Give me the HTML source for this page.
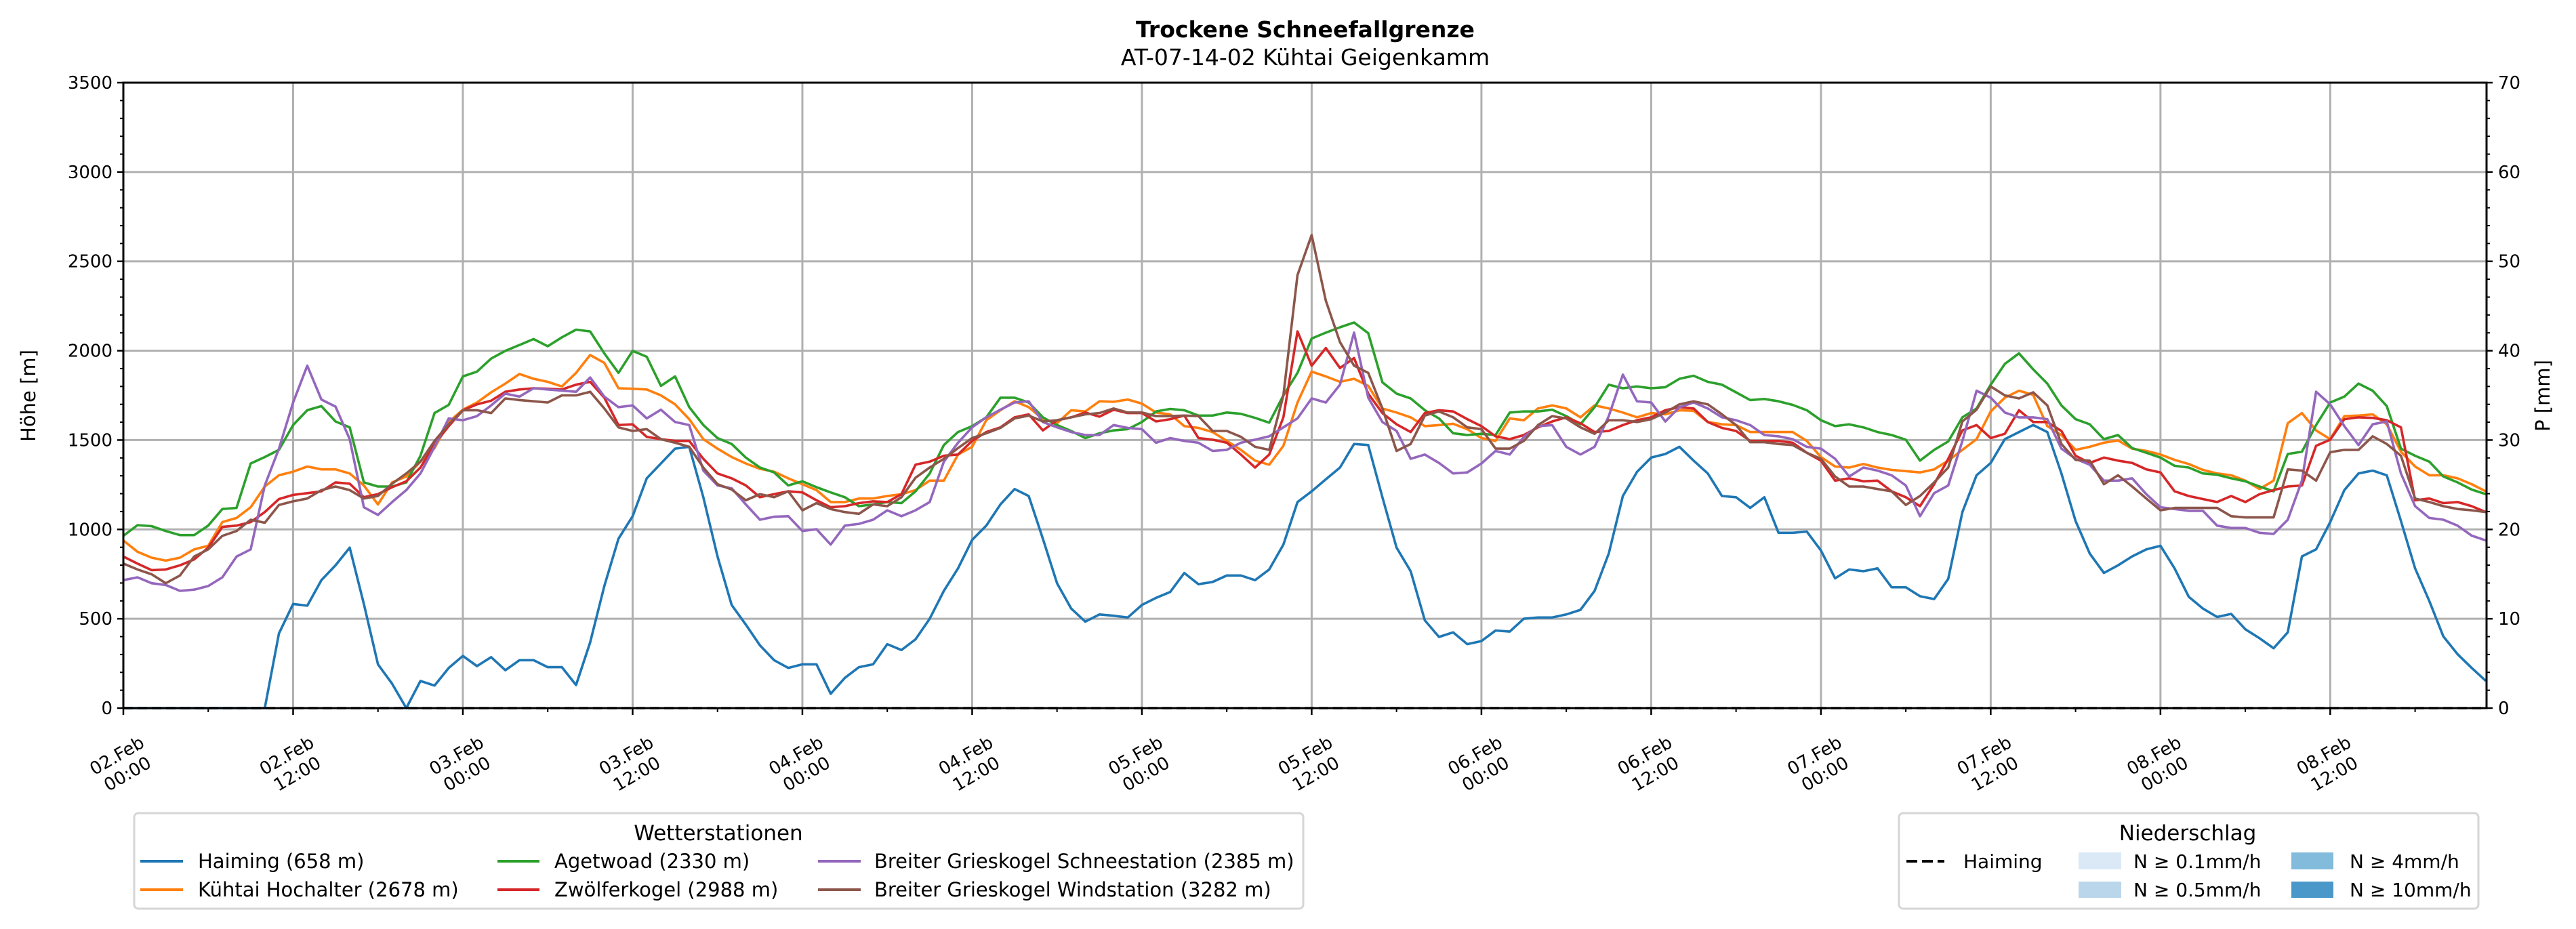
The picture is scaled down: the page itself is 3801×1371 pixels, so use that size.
<!DOCTYPE html>
<html><head><meta charset="utf-8"><style>
html,body{margin:0;padding:0;background:#fff;}
svg{display:block;font-family:"DejaVu Sans","Liberation Sans",sans-serif;}
</style></head><body>
<svg id="chart" width="3801" height="1371" viewBox="0 0 3801 1371" xmlns="http://www.w3.org/2000/svg">
<rect x="0" y="0" width="3801" height="1371" fill="#fff"/>
<text x="1926" y="55" text-anchor="middle" font-size="33" font-weight="bold">Trockene Schneefallgrenze</text>
<text x="1926" y="96" text-anchor="middle" font-size="33">AT-07-14-02 Kühtai Geigenkamm</text>
<g id="grid"></g>
<g id="series"></g>
<g id="axes"></g>
<text transform="translate(52,584) rotate(-90)" text-anchor="middle" font-size="29">Höhe [m]</text>
<text transform="translate(3762,584) rotate(-90)" text-anchor="middle" font-size="29">P [mm]</text>

<g>
<rect x="198" y="1200" width="1725" height="141" rx="6" fill="#fff" stroke="#d6d6d6" stroke-width="3"/>
<text x="1060" y="1240" text-anchor="middle" font-size="31">Wetterstationen</text>
<g><line x1="207" y1="1271" x2="270" y2="1271" stroke="#1f77b4" stroke-width="4"/><text x="292" y="1281" font-size="29">Haiming (658 m)</text></g>
<g><line x1="207" y1="1313" x2="270" y2="1313" stroke="#ff7f0e" stroke-width="4"/><text x="292" y="1323" font-size="29">Kühtai Hochalter (2678 m)</text></g>
<g><line x1="734" y1="1271" x2="796" y2="1271" stroke="#2ca02c" stroke-width="4"/><text x="818" y="1281" font-size="29">Agetwoad (2330 m)</text></g>
<g><line x1="734" y1="1313" x2="796" y2="1313" stroke="#d62728" stroke-width="4"/><text x="818" y="1323" font-size="29">Zwölferkogel (2988 m)</text></g>
<g><line x1="1207" y1="1271" x2="1270" y2="1271" stroke="#9467bd" stroke-width="4"/><text x="1290" y="1281" font-size="29">Breiter Grieskogel Schneestation (2385 m)</text></g>
<g><line x1="1207" y1="1313" x2="1270" y2="1313" stroke="#8c564b" stroke-width="4"/><text x="1290" y="1323" font-size="29">Breiter Grieskogel Windstation (3282 m)</text></g>
</g>

<g>
<rect x="2802" y="1200" width="855" height="141" rx="6" fill="#fff" stroke="#d6d6d6" stroke-width="3"/>
<text x="3228" y="1240" text-anchor="middle" font-size="31">Niederschlag</text>
<g><line x1="2813" y1="1271" x2="2869" y2="1271" stroke="#000" stroke-width="4" stroke-dasharray="16,7"/><text x="2897" y="1281" font-size="28">Haiming</text></g>
<g><rect x="3067" y="1258" width="63" height="25" fill="#dbe9f6"/><text x="3148" y="1281" font-size="28">N ≥ 0.1mm/h</text></g>
<g><rect x="3067" y="1301" width="63" height="24" fill="#bad6eb"/><text x="3148" y="1323" font-size="28">N ≥ 0.5mm/h</text></g>
<g><rect x="3381" y="1258" width="62" height="25" fill="#82bbdb"/><text x="3467" y="1281" font-size="28">N ≥ 4mm/h</text></g>
<g><rect x="3381" y="1301" width="62" height="24" fill="#4a98c9"/><text x="3467" y="1323" font-size="28">N ≥ 10mm/h</text></g>
</g>
</svg>
<script>
const hoursCount = 168;
const yTicks = [0,500,1000,1500,2000,2500,3000,3500];
const y2Ticks = [0,10,20,30,40,50,60,70];
const xTickLabels = ["02.Feb\n00:00","02.Feb\n12:00","03.Feb\n00:00","03.Feb\n12:00","04.Feb\n00:00","04.Feb\n12:00","05.Feb\n00:00","05.Feb\n12:00","06.Feb\n00:00","06.Feb\n12:00","07.Feb\n00:00","07.Feb\n12:00","08.Feb\n00:00","08.Feb\n12:00"];
const haimingPrecip = new Array(168).fill(0);
const haiming = [0,0,0,0,0,0,0,0,0,0,0,418,583,573,716,799,898,583,245,136,0,152,126,225,292,235,285,212,268,268,229,229,129,368,683,948,1074,1286,1369,1452,1462,1180,849,577,467,351,268,225,245,245,80,169,229,245,358,325,385,500,656,782,941,1021,1140,1226,1187,948,699,557,484,524,517,507,577,617,650,756,693,706,742,742,716,776,915,1153,1213,1280,1346,1478,1472,1180,898,766,491,398,424,358,375,434,428,500,507,507,524,550,656,865,1187,1322,1402,1422,1462,1385,1313,1187,1180,1120,1180,981,981,988,882,726,776,766,782,676,676,626,610,723,1097,1303,1372,1505,1545,1584,1545,1313,1047,865,756,799,849,888,908,782,623,557,510,527,441,391,335,424,849,888,1041,1220,1313,1329,1303,1047,782,600,401,302,225,152];
const kuehtai = [938,875,842,825,842,888,908,1041,1064,1124,1240,1303,1323,1352,1336,1336,1313,1246,1140,1263,1296,1379,1455,1601,1670,1710,1767,1816,1870,1843,1826,1800,1876,1976,1932,1790,1787,1783,1750,1700,1617,1505,1452,1405,1369,1339,1323,1286,1253,1220,1153,1153,1173,1173,1187,1197,1220,1273,1273,1419,1462,1611,1667,1717,1684,1617,1594,1667,1660,1717,1714,1727,1704,1654,1644,1578,1568,1545,1495,1445,1385,1362,1468,1710,1883,1856,1826,1843,1803,1677,1654,1627,1578,1584,1591,1561,1511,1495,1621,1611,1677,1694,1677,1627,1694,1677,1654,1627,1651,1644,1667,1664,1601,1588,1584,1545,1545,1545,1545,1495,1405,1352,1346,1366,1346,1333,1326,1319,1336,1385,1445,1505,1660,1737,1776,1753,1578,1528,1445,1462,1485,1498,1452,1439,1419,1389,1366,1333,1313,1303,1273,1226,1273,1594,1651,1554,1505,1634,1637,1644,1588,1435,1352,1303,1303,1286,1253,1213];
const agetwoad = [964,1024,1018,991,968,968,1021,1114,1120,1369,1405,1445,1584,1667,1690,1604,1571,1263,1240,1240,1263,1412,1651,1697,1856,1883,1956,1999,2032,2065,2025,2075,2118,2108,1985,1876,1999,1966,1803,1856,1684,1584,1511,1478,1402,1346,1319,1246,1269,1236,1207,1180,1130,1140,1153,1147,1213,1313,1472,1545,1578,1627,1737,1737,1710,1627,1584,1551,1511,1538,1554,1561,1601,1660,1674,1667,1637,1637,1654,1647,1624,1597,1750,1876,2068,2101,2131,2158,2098,1823,1760,1733,1667,1621,1538,1528,1535,1528,1654,1660,1660,1670,1634,1588,1684,1810,1790,1800,1790,1796,1843,1860,1826,1810,1767,1724,1730,1717,1697,1667,1611,1578,1588,1571,1545,1528,1502,1385,1445,1492,1627,1677,1810,1926,1985,1896,1816,1694,1617,1588,1505,1528,1455,1429,1402,1356,1346,1313,1306,1286,1269,1240,1213,1422,1435,1584,1710,1743,1816,1776,1690,1452,1412,1379,1296,1263,1223,1197];
const zwoelfer = [848,809,772,776,799,832,898,1014,1021,1041,1097,1170,1193,1203,1213,1263,1256,1180,1197,1236,1269,1346,1478,1578,1667,1700,1720,1770,1783,1790,1787,1783,1810,1826,1737,1584,1588,1518,1505,1495,1495,1395,1313,1286,1246,1180,1197,1213,1207,1163,1124,1130,1147,1157,1153,1197,1362,1379,1412,1419,1495,1545,1571,1627,1644,1554,1611,1627,1654,1631,1670,1651,1651,1604,1617,1637,1511,1502,1485,1419,1346,1419,1627,2108,1916,2015,1903,1959,1760,1651,1588,1545,1651,1667,1660,1617,1578,1521,1505,1528,1571,1604,1627,1594,1545,1551,1584,1611,1627,1667,1684,1677,1601,1568,1551,1495,1495,1495,1485,1429,1385,1273,1286,1269,1273,1213,1180,1130,1253,1395,1554,1584,1511,1535,1667,1601,1601,1551,1412,1372,1402,1385,1372,1336,1319,1213,1187,1170,1153,1187,1153,1197,1220,1240,1246,1468,1502,1617,1627,1624,1611,1571,1163,1173,1147,1153,1130,1097];
const grieskogelSchnee = [716,732,699,689,656,663,683,732,848,888,1246,1452,1710,1916,1727,1687,1505,1124,1081,1153,1220,1313,1462,1621,1611,1634,1694,1760,1743,1790,1783,1777,1770,1850,1743,1684,1694,1621,1670,1601,1584,1329,1246,1230,1140,1054,1071,1074,991,1001,915,1021,1031,1054,1107,1074,1107,1153,1379,1485,1571,1627,1670,1710,1717,1601,1571,1545,1528,1528,1584,1568,1561,1485,1511,1495,1485,1439,1445,1485,1502,1521,1571,1621,1733,1710,1810,2101,1737,1601,1551,1395,1419,1372,1313,1319,1369,1439,1419,1518,1578,1584,1462,1419,1462,1634,1866,1717,1710,1604,1684,1710,1677,1627,1611,1584,1528,1521,1505,1462,1452,1395,1296,1346,1329,1303,1246,1074,1203,1246,1495,1776,1737,1654,1627,1627,1617,1452,1395,1362,1273,1273,1286,1197,1124,1114,1104,1104,1021,1008,1008,981,975,1054,1273,1770,1700,1578,1472,1588,1604,1313,1130,1064,1054,1021,965,938];
const grieskogelWind = [809,776,749,699,742,848,888,964,991,1054,1037,1137,1157,1173,1220,1240,1220,1173,1187,1256,1313,1379,1495,1588,1667,1667,1651,1733,1724,1717,1710,1750,1750,1770,1677,1571,1551,1561,1505,1485,1462,1346,1253,1223,1163,1197,1180,1213,1107,1147,1114,1097,1087,1140,1130,1180,1289,1346,1395,1455,1511,1538,1568,1621,1637,1604,1611,1627,1644,1651,1677,1654,1654,1634,1634,1637,1634,1551,1551,1518,1462,1445,1750,2423,2647,2280,2048,1916,1876,1677,1439,1478,1637,1660,1627,1571,1561,1452,1452,1495,1584,1634,1621,1571,1535,1611,1611,1601,1617,1654,1700,1717,1700,1644,1584,1488,1488,1478,1472,1429,1395,1296,1240,1240,1226,1213,1137,1187,1263,1346,1604,1670,1800,1750,1733,1767,1694,1478,1389,1385,1253,1303,1240,1173,1107,1120,1120,1120,1120,1074,1067,1067,1067,1336,1329,1273,1432,1445,1445,1521,1478,1412,1173,1153,1130,1114,1107,1097];

const NS='http://www.w3.org/2000/svg';
const X0=182, X1=3669, Y0=1045, Y1=122;
function xs(h){return X0+h*(X1-X0)/167.05;}
function ys(v){return Y0-v*(Y0-Y1)/3500;}
function ys2(v){return Y0-v*(Y0-Y1)/70;}
function el(tag,attrs,parent){const e=document.createElementNS(NS,tag);for(const k in attrs)e.setAttribute(k,attrs[k]);parent.appendChild(e);return e;}
const grid=document.getElementById('grid'), axes=document.getElementById('axes'), ser=document.getElementById('series');

yTicks.forEach(v=>{
  const g=el('line',{x1:X0,x2:X1,y1:ys(v),y2:ys(v),stroke:'#b0b0b0','stroke-width':3},grid);
  
  
  el('line',{x1:X0-9,x2:X0,y1:ys(v),y2:ys(v),stroke:'#000','stroke-width':2.5},axes);
  const t=el('text',{x:X0-16,y:ys(v)+9,'text-anchor':'end','font-size':26},axes);
  t.textContent=v;
  
  
});
for(let v=100;v<3500;v+=100){ if(v%500) el('line',{x1:X0-5,x2:X0,y1:ys(v),y2:ys(v),stroke:'#000','stroke-width':2},axes); }
y2Ticks.forEach(v=>{
  el('line',{x1:X1,x2:X1+9,y1:ys2(v),y2:ys2(v),stroke:'#000','stroke-width':2.5},axes);
  const t=el('text',{x:X1+17,y:ys2(v)+9,'font-size':26},axes);
  t.textContent=v;
  
  
});
for(let v=2;v<70;v+=2){ if(v%10) el('line',{x1:X1,x2:X1+5,y1:ys2(v),y2:ys2(v),stroke:'#000','stroke-width':2},axes); }
xTickLabels.forEach((lab,i)=>{
  const x=xs(i*12);
  const g=el('line',{x1:x,x2:x,y1:Y1,y2:Y0,stroke:'#b0b0b0','stroke-width':3},grid);
  
  
  el('line',{x1:x,x2:x,y1:Y0,y2:Y0+10,stroke:'#000','stroke-width':2.5},axes);
  el('line',{x1:xs(i*12+6),x2:xs(i*12+6),y1:Y0,y2:Y0+6,stroke:'#000','stroke-width':2},axes);
  const parts=lab.split('\n');
  const t=el('text',{transform:`translate(${x-2},${1128}) rotate(-30)`,'text-anchor':'middle','font-size':26},axes);
  
  
  parts.forEach((p,j)=>{const s=el('tspan',{x:0,y:(j===0?-6:25)},t);s.textContent=p;});
});

const seriesList=[[haiming,'#1f77b4','line-haiming'],[kuehtai,'#ff7f0e','line-kuehtai'],[agetwoad,'#2ca02c','line-agetwoad'],[zwoelfer,'#d62728','line-zwoelferkogel'],[grieskogelSchnee,'#9467bd','line-grieskogel-schnee'],[grieskogelWind,'#8c564b','line-grieskogel-wind']];
seriesList.forEach(([d,c,n])=>{
  const pts=d.map((v,i)=>xs(i).toFixed(1)+','+ys(v).toFixed(1)).join(' ');
  const p=el('polyline',{points:pts,fill:'none',stroke:c,'stroke-width':3.6,'stroke-linejoin':'round'},ser);
  
  
});
const pp=haimingPrecip.map((v,i)=>xs(i).toFixed(1)+','+ys2(v).toFixed(1)).join(' ');
const pl=el('polyline',{points:pp,fill:'none',stroke:'#000','stroke-width':3.6,'stroke-dasharray':'14,7'},ser);



const fr=el('rect',{x:X0,y:Y1,width:X1-X0,height:Y0-Y1,fill:'none',stroke:'#000','stroke-width':3},axes);


</script>
</body></html>
